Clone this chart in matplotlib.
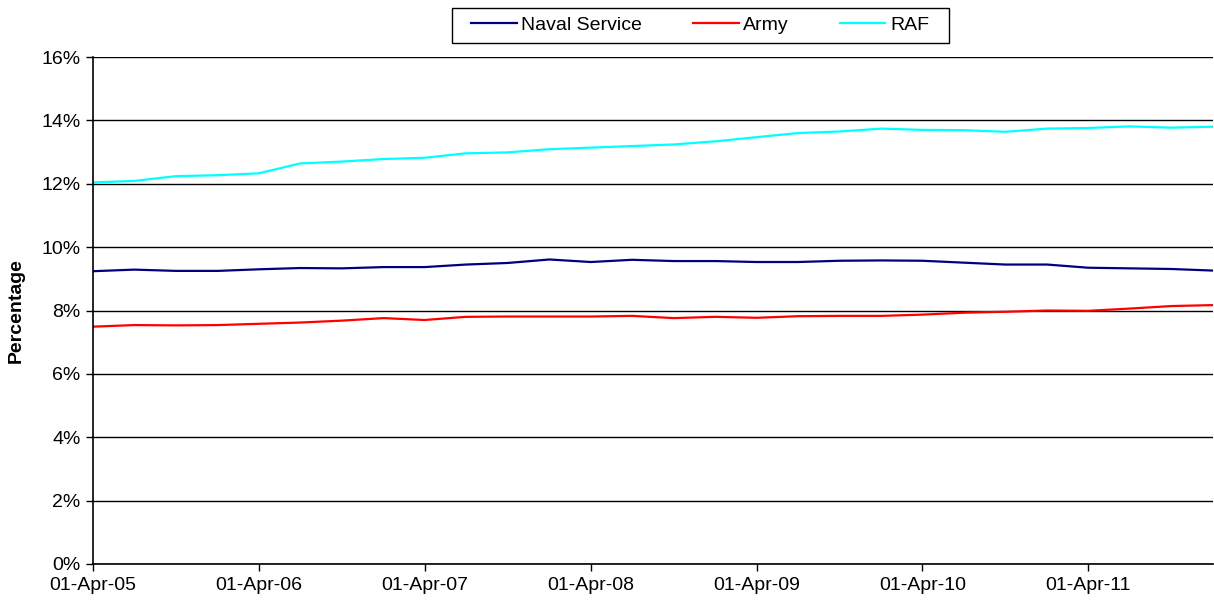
import matplotlib
matplotlib.use("Agg")
import matplotlib.pyplot as plt
import matplotlib.dates as mdates
import pandas as pd
from matplotlib.ticker import FuncFormatter
from matplotlib.patches import Rectangle

plt.rcParams['font.family'] = ['Liberation Sans', 'DejaVu Sans']

dates = pd.date_range("2005-04-01", "2012-01-01", freq="QS-JAN")

naval = [9.24, 9.29, 9.25, 9.25, 9.30, 9.34, 9.33, 9.37, 9.37, 9.45,
         9.50, 9.61, 9.53, 9.60, 9.56, 9.56, 9.53, 9.53, 9.57, 9.58,
         9.57, 9.51, 9.45, 9.45, 9.35, 9.33, 9.31, 9.26]
army = [7.49, 7.54, 7.53, 7.54, 7.58, 7.62, 7.68, 7.76, 7.70, 7.80,
        7.81, 7.81, 7.81, 7.83, 7.76, 7.80, 7.77, 7.82, 7.83, 7.83,
        7.87, 7.93, 7.96, 8.00, 7.99, 8.06, 8.14, 8.17]
raf = [12.04, 12.09, 12.24, 12.27, 12.33, 12.64, 12.70, 12.78, 12.82, 12.96,
       12.99, 13.09, 13.14, 13.19, 13.24, 13.34, 13.47, 13.60, 13.65, 13.74,
       13.70, 13.69, 13.64, 13.74, 13.76, 13.81, 13.77, 13.80]

series_names = ["Naval Service", "Army", "RAF"]
colors = ["#000080", "#FF0000", "#00FFFF"]

W, H = 1214, 608
fig = plt.figure(figsize=(W / 100, H / 100), dpi=100)
ax = fig.add_axes([93/W, 1 - 564/H, (1213 - 93)/W, (564 - 57)/H])

for vals, name, c in zip([naval, army, raf], series_names, colors):
    ax.plot(dates, [v / 100 for v in vals], color=c, lw=1.6, label=name)

ax.set_ylim(0, 0.16)
ax.set_yticks([i / 100 for i in range(0, 17, 2)])
ax.yaxis.set_major_formatter(FuncFormatter(lambda v, p: f"{round(v*100)}%"))
ax.set_xlim(pd.Timestamp("2005-04-01"), pd.Timestamp("2012-01-01"))
ax.set_xticks(pd.date_range("2005-04-01", "2011-04-01", freq="YS-APR"))
ax.xaxis.set_major_formatter(mdates.DateFormatter("%d-%b-%y"))

ax.grid(axis="y", color="black", lw=1)
ax.set_axisbelow(True)
for s in ["top", "right"]:
    ax.spines[s].set_visible(False)
ax.spines["left"].set_linewidth(1.2)
ax.spines["bottom"].set_linewidth(1.2)
ax.tick_params(labelsize=14, length=5, width=1, pad=4)
ax.set_ylabel("Percentage", fontsize=14, fontweight="bold", labelpad=12)

# legend frame
fig.patches.append(Rectangle((452/W, 1 - 43/H), (949 - 452)/W, 35/H,
                             transform=fig.transFigure, fill=False,
                             edgecolor="black", lw=1))
leg = fig.legend(loc="center", bbox_to_anchor=(700/W, 1 - 25.5/H), ncol=3,
                 fontsize=14, frameon=False,
                 handlelength=2.35, handletextpad=0.25, columnspacing=2.6,
                 borderpad=0.2)

fig.savefig("out.png", dpi=100)
